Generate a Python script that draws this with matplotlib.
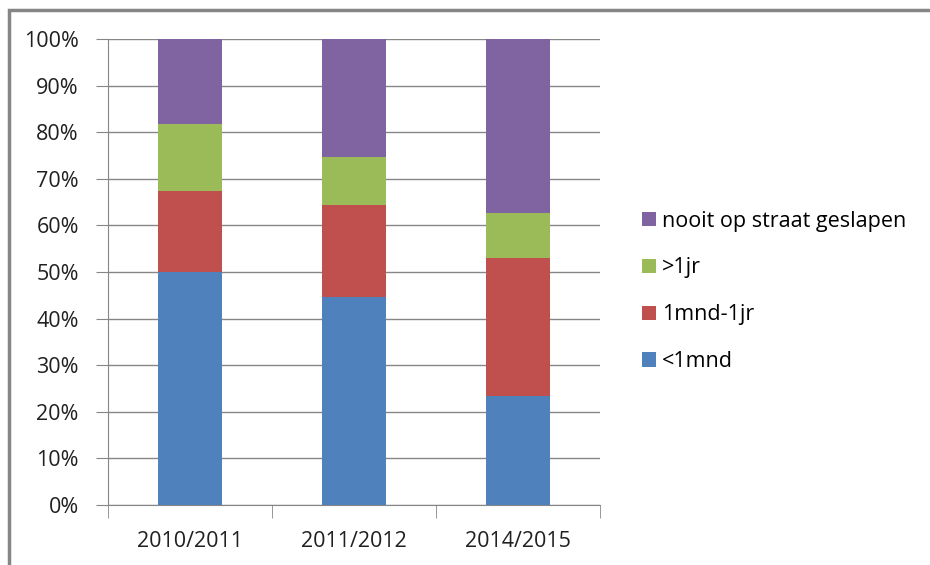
import matplotlib
matplotlib.use('Agg')
import matplotlib.pyplot as plt
from matplotlib.patches import Rectangle
import numpy as np

# Data (fractions, in percent)
years = ['2010/2011', '2011/2012', '2014/2015']
lt_1mnd = [50.0, 44.6, 23.4]
mnd_1jr = [17.4, 19.8, 29.6]
gt_1jr = [14.4, 10.3, 9.7]
nooit = [18.2, 25.3, 37.3]

series = [('<1mnd', lt_1mnd, '#4f81bd'),
          ('1mnd-1jr', mnd_1jr, '#c0504d'),
          ('>1jr', gt_1jr, '#9bbb59'),
          ('nooit op straat geslapen', nooit, '#8064a2')]

matplotlib.rc('font', family='Open Sans', size=15.5)

W, H = 930, 565
fig = plt.figure(figsize=(W / 100, H / 100), dpi=100)
ax = fig.add_axes([108 / W, 1 - 505 / H, (600 - 108) / W, (505 - 39) / H])

x = np.arange(len(years))
bottom = np.zeros(len(years))
handles = []
for label, vals, color in series:
    b = ax.bar(x, vals, width=0.39, bottom=bottom, color=color,
               label=label, zorder=3)
    handles.append(b)
    bottom += np.array(vals)

ax.set_xlim(-0.5, len(years) - 0.5)
ax.set_ylim(0, 100)
ax.set_yticks(np.arange(0, 101, 10))
ax.set_yticklabels(['%d%%' % v for v in range(0, 101, 10)], color='#202020')
ax.set_xticks(x)
ax.set_xticklabels(years, color='#202020')
ax.set_xticks(np.arange(-0.5, len(years), 1), minor=True)
ax.tick_params(axis='x', which='major', length=0, pad=19)
ax.tick_params(axis='x', which='minor', length=9, color='#868686')
ax.tick_params(axis='y', length=9, color='#868686', pad=12)
ax.grid(axis='y', color='#868686', linewidth=1, zorder=0)

for s in ['top', 'right']:
    ax.spines[s].set_visible(False)
for s in ['left', 'bottom']:
    ax.spines[s].set_color('#868686')

# legend in reversed order, as in the reference
ax.legend(handles[::-1], [s[0] for s in series][::-1],
          loc='upper left', bbox_to_anchor=(633 / W, 1 - 202 / H),
          bbox_transform=fig.transFigure, frameon=False,
          handlelength=0.65, handleheight=0.65, handletextpad=0.3,
          labelspacing=1.2, borderaxespad=0)

# outer chart frame (cut off at right and bottom)
fig.patches.append(Rectangle((9 / W, -0.1), 1.2, 1 - 10 / H + 0.1,
                             transform=fig.transFigure, fill=False,
                             edgecolor='#868686', linewidth=2.5))

fig.savefig('out.png', dpi=100)
